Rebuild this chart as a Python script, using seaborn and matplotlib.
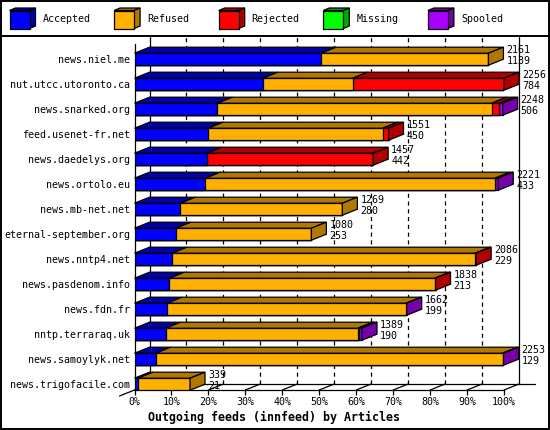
import matplotlib
matplotlib.use('Agg')
import matplotlib.pyplot as plt
import seaborn as sns
import numpy as np
import pandas as pd
from matplotlib.patches import Polygon, Rectangle

# ---------------- data ----------------
hosts = ["news.niel.me", "nut.utcc.utoronto.ca", "news.snarked.org", "feed.usenet-fr.net",
         "news.daedelys.org", "news.ortolo.eu", "news.mb-net.net", "eternal-september.org",
         "news.nntp4.net", "news.pasdenom.info", "news.fdn.fr", "nntp.terraraq.uk",
         "news.samoylyk.net", "news.trigofacile.com"]
totals = [2161, 2256, 2248, 1551, 1457, 2221, 1269, 1080, 2086, 1838, 1662, 1389, 2253, 339]
accepted = [1139, 784, 506, 450, 442, 433, 280, 253, 229, 213, 199, 190, 129, 21]
refused = [1022, 548, 1675, 1065, 0, 1768, 989, 827, 1851, 1620, 1459, 1175, 2119, 318]
rejected = [0, 924, 46, 36, 1015, 0, 0, 0, 6, 5, 0, 6, 0, 0]
missing = [0, 0, 0, 0, 0, 0, 0, 0, 0, 0, 0, 0, 0, 0]
spooled = [0, 0, 21, 0, 0, 20, 0, 0, 0, 0, 4, 18, 5, 0]
series_names = ["Accepted", "Refused", "Rejected", "Missing", "Spooled"]
xticks = [0, 10, 20, 30, 40, 50, 60, 70, 80, 90, 100]
xlabel = "Outgoing feeds (innfeed) by Articles"

front_colors = ['#0000ff', '#ffb000', '#ff0000', '#00ff00', '#aa00ff']
dark_colors = ['#0000a8', '#b07800', '#b00000', '#00a800', '#7800aa']

# ---------------- setup ----------------
sns.set_theme(style='white')
plt.rcParams['font.family'] = ['DejaVu Sans Mono']
plt.rcParams['lines.scale_dashes'] = False
FS = 7.2
LW = 0.9

W, H = 550, 430
fig = plt.figure(figsize=(5.5, 4.3), dpi=100)
fig.patch.set_facecolor('white')

# background overlay in pixel coordinates (frame + legend)
bg = fig.add_axes([0, 0, 1, 1], zorder=0)
bg.set_xlim(0, W)
bg.set_ylim(H, 0)
bg.axis('off')
bg.add_patch(Rectangle((0.7, 0.7), W - 1.6, H - 1.6, fill=False, ec='black', lw=1.4))
bg.plot([0, W], [35.5, 35.5], color='black', lw=1.4)
for i, (name, fc, dc) in enumerate(zip(series_names, front_colors, dark_colors)):
    x0 = 9.5 + 104.6 * i
    y0, bw, bh, ddx, ddy = 10.5, 20, 18, 6, 2.5
    bg.add_patch(Polygon([(x0, y0), (x0 + bw, y0), (x0 + bw + ddx, y0 - ddy), (x0 + ddx, y0 - ddy)],
                         closed=True, fc=dc, ec='black', lw=LW))
    bg.add_patch(Polygon([(x0 + bw, y0), (x0 + bw + ddx, y0 - ddy), (x0 + bw + ddx, y0 + bh - ddy),
                          (x0 + bw, y0 + bh)], closed=True, fc=dc, ec='black', lw=LW))
    bg.add_patch(Rectangle((x0, y0), bw, bh, fc=fc, ec='black', lw=LW))
    bg.text(x0 + 33, y0 + bh / 2, name, fontsize=FS, va='center', ha='left', color='black')

# main axes: x 0..100% maps to px 134.5..504 ; rows pitch 25 px, first row centre 59.2 px
AX_L, AX_R, AX_T, AX_B = 134.5, 504.0, 44.0, 390.0
ROW0 = 59.2
ax = fig.add_axes([AX_L / W, (H - AX_B) / H, (AX_R - AX_L) / W, (AX_B - AX_T) / H], zorder=1)
ax.patch.set_alpha(0)

maxtot = max(totals)
df = pd.DataFrame({
    'host': hosts,
    'accepted': accepted, 'refused': refused, 'rejected': rejected,
    'missing': missing, 'spooled': spooled,
})
cols = ['accepted', 'refused', 'rejected', 'missing', 'spooled']
cum = df[cols].cumsum(axis=1) / maxtot * 100
for c in cols:
    df['c_' + c] = cum[c]

BAR_H = 12 / 25
# draw cumulative layers, longest first
for c, fc in list(zip(cols, front_colors))[::-1]:
    sns.barplot(data=df, y='host', x='c_' + c, order=hosts, orient='h', color=fc,
                saturation=1, width=BAR_H, edgecolor='black', linewidth=LW, ax=ax, zorder=3)

sx = (AX_R - AX_L) / 100.0
sy = 25.0
def dx_(p):
    return (p - AX_L) / sx
def dy_(p):
    return (p - ROW0) / sy
DX = 15.0 / sx
DY = 6.0 / sy

ax.set_xlim(0, 100)
ax.set_ylim(dy_(AX_B), dy_(AX_T))

# 3D top and side faces
seg_vals = df[cols].to_numpy() / maxtot * 100
for i in range(len(hosts)):
    top = i - BAR_H / 2
    bot = i + BAR_H / 2
    x = 0.0
    last = None
    for k in range(len(cols)):
        w = seg_vals[i, k]
        if w <= 0:
            continue
        ax.add_patch(Polygon([(x, top), (x + w, top), (x + w + DX, top - DY), (x + DX, top - DY)],
                             closed=True, fc=dark_colors[k], ec='black', lw=LW, zorder=3,
                             clip_on=False))
        x += w
        last = k
    ax.add_patch(Polygon([(x, top), (x + DX, top - DY), (x + DX, bot - DY), (x, bot)],
                         closed=True, fc=dark_colors[last], ec='black', lw=LW, zorder=3.5,
                         clip_on=False))
    # value labels
    ax.text(x + DX + 3 / sx, i - 9.5 / sy, str(totals[i]), fontsize=FS, va='center', ha='left',
            color='black', zorder=4, clip_on=False)
    ax.text(x + DX + 3 / sx, i + 1.8 / sy, str(accepted[i]), fontsize=FS, va='center', ha='left',
            color='black', zorder=4, clip_on=False)

# back wall grid
floor_y = dy_(AX_B) - DY
top_y = dy_(37)
for t in xticks:
    if t in (0, 100):
        ax.plot([t + DX, t + DX], [floor_y, top_y], color='black', lw=LW, zorder=1, clip_on=False)
    else:
        ax.plot([t + DX, t + DX], [floor_y, top_y], color='black', lw=LW, zorder=1, clip_on=False,
                linestyle=(0, (3.0, 2.6)))
    # floor diagonal
    ax.plot([t, t + DX], [dy_(AX_B), floor_y], color='black', lw=LW, zorder=1, clip_on=False)
ax.plot([DX, dx_(535)], [floor_y, floor_y], color='black', lw=LW, zorder=1, clip_on=False)
ax.plot([-DX, 0], [dy_(AX_B) + DY, dy_(AX_B)], color='black', lw=LW, zorder=1, clip_on=False)

# axes styling
ax.set_xticks(xticks)
ax.set_xticklabels([f"{t}%" for t in xticks])
ax.tick_params(axis='x', length=5 * 0.72, width=LW, pad=1.5, labelsize=FS, colors='black',
               direction='out', bottom=True)
ax.tick_params(axis='y', length=0, pad=3.2, labelsize=FS, colors='black')
for s in ['top', 'right']:
    ax.spines[s].set_visible(False)
for s in ['left', 'bottom']:
    ax.spines[s].set_color('black')
    ax.spines[s].set_linewidth(LW)
    ax.spines[s].set_zorder(2)
ax.set_ylabel('')
ax.set_xlabel(xlabel, fontsize=8.4, fontweight='bold', color='black')
ax.xaxis.set_label_coords((274.5 - AX_L) / (AX_R - AX_L), (AX_B - 417) / (AX_B - AX_T))
ax.xaxis.label.set_va('center')
ax.grid(False)

fig.savefig('out.png', dpi=100)
